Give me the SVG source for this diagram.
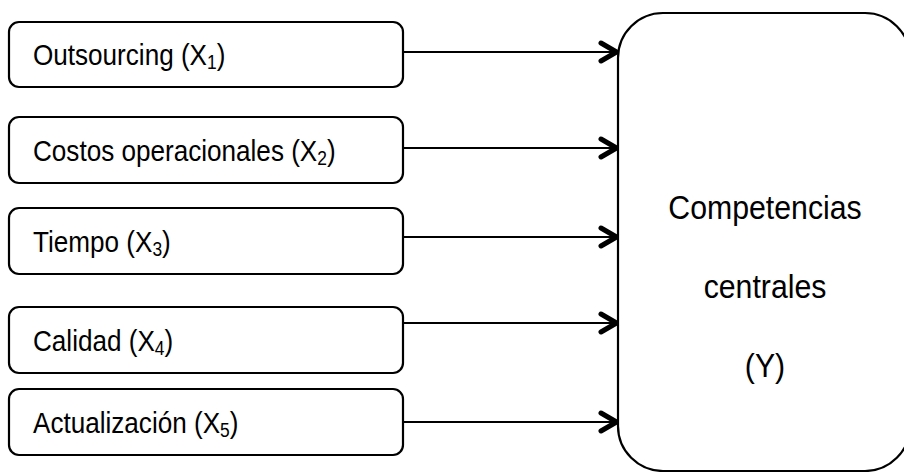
<svg xmlns="http://www.w3.org/2000/svg" width="904" height="472" viewBox="0 0 904 472">
<defs>
<style>
.box{fill:#fff;stroke:#000;stroke-width:2.2}
.lbl{font-family:"Liberation Sans",Arial,sans-serif;font-size:30px;fill:#000}
.big{font-family:"Liberation Sans",Arial,sans-serif;font-size:34px;fill:#000;text-anchor:middle}
.sub{font-size:20px}
.conn{stroke:#000;stroke-width:2.2;fill:none}
</style>
<marker id="arr" markerUnits="userSpaceOnUse" markerWidth="30" markerHeight="30" viewBox="-20 -15 30 30" refX="0" refY="0" orient="auto">
<path d="M -17 -9 L -1.5 0 L -17 9" fill="none" stroke="#000" stroke-width="5" stroke-linecap="round" stroke-linejoin="round"/>
</marker>
</defs>
<rect width="904" height="472" fill="#fff"/>
<g id="connectors">
<line class="conn" x1="403" y1="52" x2="618" y2="52" marker-end="url(#arr)"/>
<line class="conn" x1="403" y1="148" x2="618" y2="148" marker-end="url(#arr)"/>
<line class="conn" x1="403" y1="237" x2="618" y2="237" marker-end="url(#arr)"/>
<line class="conn" x1="403" y1="323" x2="618" y2="323" marker-end="url(#arr)"/>
<line class="conn" x1="403" y1="422" x2="618" y2="422" marker-end="url(#arr)"/>
</g>
<g id="x1">
<rect class="box" x="9" y="22" width="394" height="65" rx="10"/>
<text class="lbl" transform="translate(33,65) scale(0.87,1)">Outsourcing (X<tspan class="sub" dy="4">1</tspan><tspan dy="-4">)</tspan></text>
</g>
<g id="x2">
<rect class="box" x="9" y="117" width="394" height="66" rx="10"/>
<text class="lbl" transform="translate(33,161) scale(0.87,1)">Costos operacionales (X<tspan class="sub" dy="4">2</tspan><tspan dy="-4">)</tspan></text>
</g>
<g id="x3">
<rect class="box" x="9" y="208" width="394" height="66" rx="10"/>
<text class="lbl" transform="translate(33,252) scale(0.87,1)">Tiempo (X<tspan class="sub" dy="4">3</tspan><tspan dy="-4">)</tspan></text>
</g>
<g id="x4">
<rect class="box" x="9" y="307" width="394" height="66" rx="10"/>
<text class="lbl" transform="translate(33,351) scale(0.87,1)">Calidad (X<tspan class="sub" dy="4">4</tspan><tspan dy="-4">)</tspan></text>
</g>
<g id="x5">
<rect class="box" x="9" y="389" width="394" height="66" rx="10"/>
<text class="lbl" transform="translate(33,433) scale(0.87,1)">Actualización (X<tspan class="sub" dy="4">5</tspan><tspan dy="-4">)</tspan></text>
</g>
<g id="y">
<rect class="box" x="618" y="13" width="292" height="458" rx="45"/>
<text class="big" transform="translate(765,219) scale(0.89,1)">Competencias</text>
<text class="big" transform="translate(765,298) scale(0.89,1)">centrales</text>
<text class="big" transform="translate(765,377) scale(0.89,1)">(Y)</text>
</g>
</svg>
